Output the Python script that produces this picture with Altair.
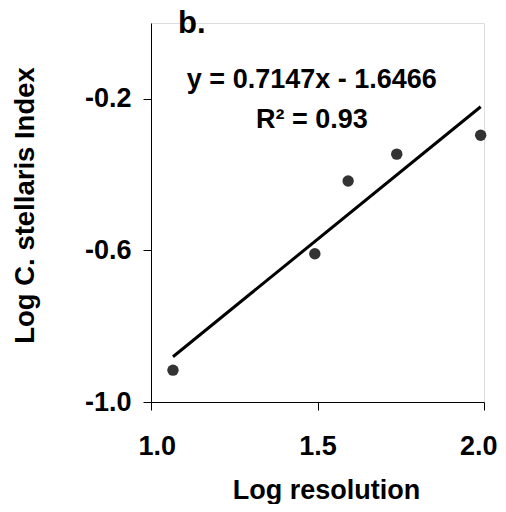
import altair as alt
import pandas as pd

# data
log_resolution = [1.066, 1.492, 1.592, 1.738, 1.990]
log_index = [-0.916, -0.609, -0.417, -0.346, -0.296]

x_ticks = [1.0, 1.5, 2.0]
y_ticks = [-1.0, -0.6, -0.2]

panel_label = ["b."]
equation_text = ["y = 0.7147x - 1.6466", "R² = 0.93"]
equation_x = [1.483, 1.483]
equation_y = [-0.172, -0.278]

df = pd.DataFrame({"x": log_resolution, "y": log_index})
ann = pd.DataFrame({"t": equation_text, "x": equation_x, "y": equation_y})
lab = pd.DataFrame({"t": panel_label, "x": [1.081], "y": [-0.026]})

FONT = "Liberation Sans"

xs = alt.Scale(domain=[1.0, 2.0], nice=False, zero=False)
ys = alt.Scale(domain=[-1.0, 0.0], nice=False, zero=False)

x_axis = alt.Axis(
    values=x_ticks, format=".1f", grid=False, domain=True, domainColor="#000",
    tickColor="#000", tickSize=8, labelFontSize=27, labelFont=FONT,
    labelFontWeight="bold", labelColor="#000", labelPadding=23,
    labelFlush=True, labelFlushOffset=13,
    title="Log resolution", titleFontSize=27, titleFont=FONT,
    titleFontWeight="bold", titleColor="#000", titleX=175, titleY=96,
    titleBaseline="alphabetic", titleAnchor="middle",
)
y_axis = alt.Axis(
    values=y_ticks, grid=False, domain=True, domainColor="#000",
    tickColor="#000", tickSize=8, labelFontSize=27, labelFont=FONT,
    labelFontWeight="bold", labelColor="#000", labelPadding=12,
    labelExpr="datum.value < 0 ? '-' + format(abs(datum.value), '.1f') : format(datum.value, '.1f')",
    title="Log C. stellaris Index", titleFontSize=27.5, titleFont=FONT,
    titleFontWeight="bold", titleColor="#000", titleX=-118, titleY=182,
    titleBaseline="alphabetic", titleAngle=-90, titleAlign="center", labelFlush=False,
)

points = alt.Chart(df).mark_point(
    filled=True, size=130, color="#333333", opacity=1
).encode(
    x=alt.X("x:Q", scale=xs, axis=x_axis),
    y=alt.Y("y:Q", scale=ys, axis=y_axis),
)

trend = alt.Chart(df).transform_regression("x", "y").mark_line(
    color="#000", strokeWidth=3
).encode(x=alt.X("x:Q", scale=xs), y=alt.Y("y:Q", scale=ys))

eq = alt.Chart(ann).mark_text(
    font=FONT, fontWeight="bold", fontSize=27, color="#000",
    align="center", baseline="alphabetic"
).encode(x=alt.X("x:Q", scale=xs), y=alt.Y("y:Q", scale=ys), text="t:N")

bl = alt.Chart(lab).mark_text(
    font=FONT, fontWeight="bold", fontSize=31, color="#000",
    align="left", baseline="alphabetic"
).encode(x=alt.X("x:Q", scale=xs), y=alt.Y("y:Q", scale=ys), text="t:N")

chart = alt.layer(trend, points, eq, bl).properties(
    width=333, height=379,
    autosize=alt.AutoSizeParams(type="none"),
    padding={"left": 143, "top": 15, "right": 14, "bottom": 102},
).configure_view(stroke=None).configure(background="white")

chart.save("out.html", embed_options={"renderer": "svg", "actions": False})
